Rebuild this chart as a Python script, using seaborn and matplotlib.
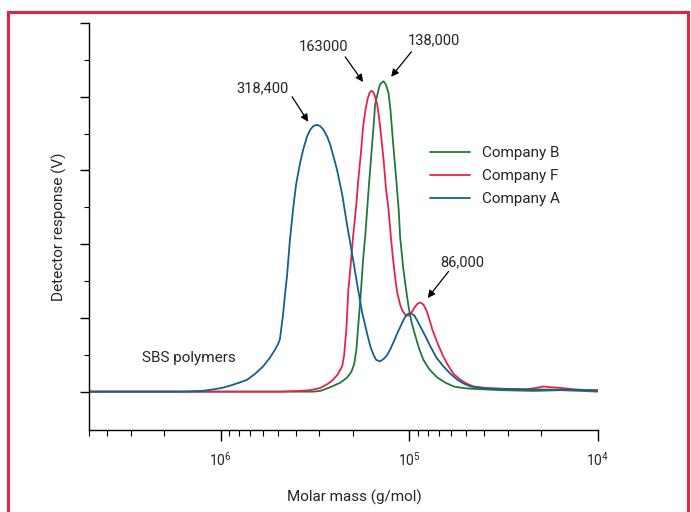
import matplotlib
matplotlib.use('Agg')
import matplotlib.pyplot as plt
import numpy
import pandas as pd
import seaborn as sns
from matplotlib.patches import Rectangle
from matplotlib.ticker import LogLocator, FixedLocator, NullFormatter

# molar mass (g/mol) and detector response
mass_b = [5.0e6, 3.24e5, 2.97e5, 2.63e5, 2.33e5, 2.14e5, 2.03e5, 1.96e5, 1.91e5, 1.87e5,
          1.82e5, 1.76e5, 1.71e5, 1.65e5, 1.61e5, 1.55e5, 1.52e5, 1.46e5, 1.43e5, 1.37e5,
          1.33e5, 1.29e5, 1.26e5, 1.22e5, 1.17e5, 1.14e5, 1.12e5, 1.08e5, 1.05e5, 1.01e5,
          9.76e4, 9.29e4, 8.85e4, 8.42e4, 7.83e4, 7.10e4, 6.43e4, 5.83e4, 5.23e4, 4.74e4,
          3.94e4, 3.28e4, 2.19e4, 1.57e4, 1.23e4, 1.0e4]
resp_b = [0, 0, 0.01, 0.06, 0.12, 0.19, 0.27, 0.38, 0.57, 0.88,
          1.25, 1.79, 2.15, 2.70, 3.06, 3.59, 3.89, 4.09, 4.17, 4.21,
          4.16, 4.05, 3.82, 3.37, 2.83, 2.47, 2.10, 1.69, 1.45, 1.15,
          0.95, 0.75, 0.57, 0.43, 0.30, 0.19, 0.12, 0.07, 0.05, 0.04,
          0.03, 0.02, 0.01, 0.02, 0.01, 0.0]

mass_f = [5.0e6, 4.86e5, 3.80e5, 3.36e5, 2.97e5, 2.73e5, 2.54e5, 2.39e5, 2.27e5, 2.22e5,
          2.16e5, 2.11e5, 2.06e5, 1.99e5, 1.91e5, 1.87e5, 1.80e5, 1.76e5, 1.71e5, 1.67e5,
          1.63e5, 1.59e5, 1.55e5, 1.52e5, 1.48e5, 1.43e5, 1.37e5, 1.33e5, 1.29e5, 1.25e5,
          1.22e5, 1.19e5, 1.16e5, 1.12e5, 1.09e5, 1.05e5, 1.01e5, 9.76e4, 9.41e4, 9.07e4,
          8.74e4, 8.42e4, 8.12e4, 7.92e4, 7.55e4, 7.10e4, 6.68e4, 6.28e4, 5.83e4, 5.35e4,
          4.98e4, 4.57e4, 3.94e4, 3.28e4, 2.42e4, 2.14e4, 1.94e4, 1.78e4, 1.57e4, 1.31e4, 1.0e4]
resp_f = [0, 0, 0.01, 0.02, 0.05, 0.10, 0.16, 0.24, 0.35, 0.49,
          0.84, 1.36, 1.65, 2.10, 2.55, 2.85, 3.29, 3.59, 3.82, 3.96,
          4.05, 4.08, 4.06, 4.00, 3.89, 3.60, 3.14, 2.74, 2.47, 2.06,
          1.79, 1.55, 1.34, 1.18, 1.10, 1.04, 1.03, 1.07, 1.14, 1.19,
          1.21, 1.18, 1.10, 1.02, 0.84, 0.66, 0.50, 0.37, 0.24, 0.16,
          0.11, 0.07, 0.05, 0.04, 0.03, 0.05, 0.07, 0.06, 0.05, 0.03, 0.01]

mass_a = [5.0e6, 1.6e6, 1.25e6, 1.10e6, 9.88e5, 8.96e5, 8.02e5, 7.27e5, 6.59e5, 5.98e5,
          5.49e5, 5.16e5, 4.98e5, 4.86e5, 4.68e5, 4.57e5, 4.46e5, 4.30e5, 4.14e5, 3.99e5,
          3.80e5, 3.66e5, 3.49e5, 3.36e5, 3.24e5, 3.09e5, 2.97e5, 2.87e5, 2.73e5, 2.63e5,
          2.54e5, 2.42e5, 2.27e5, 2.14e5, 2.01e5, 1.89e5, 1.78e5, 1.67e5, 1.61e5, 1.55e5,
          1.50e5, 1.43e5, 1.36e5, 1.31e5, 1.26e5, 1.22e5, 1.16e5, 1.09e5, 1.05e5, 1.01e5,
          9.76e4, 9.41e4, 9.07e4, 8.74e4, 8.22e4, 7.73e4, 7.18e4, 6.59e4, 6.05e4, 5.56e4,
          5.16e4, 4.74e4, 4.19e4, 3.71e4, 2.27e4, 1.0e4]
resp_a = [0, 0, 0.01, 0.03, 0.05, 0.08, 0.12, 0.16, 0.24, 0.34,
          0.46, 0.57, 0.64, 0.71, 1.04, 1.31, 1.56, 2.06, 2.47, 2.81,
          3.10, 3.28, 3.46, 3.55, 3.60, 3.62, 3.60, 3.56, 3.46, 3.35,
          3.21, 3.01, 2.67, 2.26, 1.86, 1.45, 1.07, 0.77, 0.61, 0.50,
          0.43, 0.41, 0.45, 0.50, 0.58, 0.66, 0.79, 0.94, 1.02, 1.06,
          1.06, 1.03, 0.96, 0.88, 0.75, 0.61, 0.46, 0.34, 0.24, 0.16,
          0.11, 0.07, 0.05, 0.04, 0.03, 0.02]

companies = ['Company B', 'Company F', 'Company A']
colors = {'Company B': '#23773b', 'Company F': '#e8234a', 'Company A': '#15608c'}

# peak labels: text, text position, arrow start, arrow tip
peak_labels = ['318,400', '163000', '138,000', '86,000']
label_pos = [(5.98e5, 4.12), (2.86e5, 4.67), (7.45e4, 4.76), (5.22e4, 1.76)]
arrow_from = [(4.19e5, 4.00), (2.19e5, 4.54), (9.75e4, 4.61), (6.2e4, 1.63)]
arrow_to = [(3.44e5, 3.66), (1.76e5, 4.20), (1.25e5, 4.27), (8.0e4, 1.27)]

frames = []
for name, m, r in zip(companies, [mass_b, mass_f, mass_a], [resp_b, resp_f, resp_a]):
    frames.append(pd.DataFrame({'mass': m, 'resp': r, 'company': name}))
df = pd.concat(frames, ignore_index=True)

sns.set_style('white')
plt.rcParams['font.family'] = ['Liberation Sans Narrow', 'Roboto', 'DejaVu Sans']

fig = plt.figure(figsize=(6.91, 5.12), dpi=100)
ax = fig.add_axes([0.1288, 0.1602, 0.7366, 0.7949])

sns.lineplot(data=df, x='mass', y='resp', hue='company', hue_order=companies,
             palette=colors, estimator=None, sort=False, linewidth=1.3, ax=ax)
for line in ax.lines:
    line.set_solid_joinstyle('round')

ax.set_xscale('log')
ax.set_xlim(5e6, 1e4)
ax.set_ylim(-0.52, 5.0)
ax.xaxis.set_major_locator(LogLocator(base=10))
ax.xaxis.set_minor_locator(LogLocator(base=10, subs=numpy.arange(2, 10)))
ax.xaxis.set_minor_formatter(NullFormatter())
ax.yaxis.set_major_locator(FixedLocator([0, 1, 2, 3, 4, 5]))
ax.yaxis.set_minor_locator(FixedLocator([0.5, 1.5, 2.5, 3.5, 4.5]))
ax.set_yticklabels([])

for s in ['top', 'right']:
    ax.spines[s].set_visible(False)
for s in ['left', 'bottom']:
    ax.spines[s].set_color('black')
    ax.spines[s].set_linewidth(1.0)

ax.tick_params(axis='x', which='major', direction='out', length=8, width=1, color='black',
               labelsize=10, pad=7, bottom=True)
ax.tick_params(axis='x', which='minor', direction='out', length=4, width=0.8, color='black', bottom=True)
ax.tick_params(axis='y', which='major', direction='out', length=6.5, width=1, color='black', left=True)
ax.tick_params(axis='y', which='minor', direction='out', length=3.6, width=0.8, color='black', left=True)

ax.set_xlabel('Molar mass (g/mol)', fontsize=11, labelpad=12)
ax.xaxis.set_label_coords(0.521, -0.147)
ax.set_ylabel('Detector response (V)', fontsize=11, labelpad=6)

for txt, pos, a0, a1 in zip(peak_labels, label_pos, arrow_from, arrow_to):
    ax.text(pos[0], pos[1], txt, fontsize=10.5, ha='center', va='center')
    ax.annotate('', xy=a1, xytext=a0,
                arrowprops=dict(arrowstyle='-|>', color='black', lw=0.9,
                                mutation_scale=11, shrinkA=0, shrinkB=0))

ax.text(1.48e6, 0.45, 'SBS polymers', fontsize=11, ha='center', va='center')

leg = ax.legend(loc='upper left', bbox_to_anchor=(0.670, 0.698), frameon=False,
                fontsize=11, handlelength=2.6, handletextpad=0.8, labelspacing=0.6,
                borderpad=0, borderaxespad=0, title=None)

fig.patches.append(Rectangle((0.0116, -0.05), 0.984, 1.0266, transform=fig.transFigure,
                             fill=False, edgecolor='#e8223f', linewidth=2.2))

plt.savefig('out.png', dpi=100)
